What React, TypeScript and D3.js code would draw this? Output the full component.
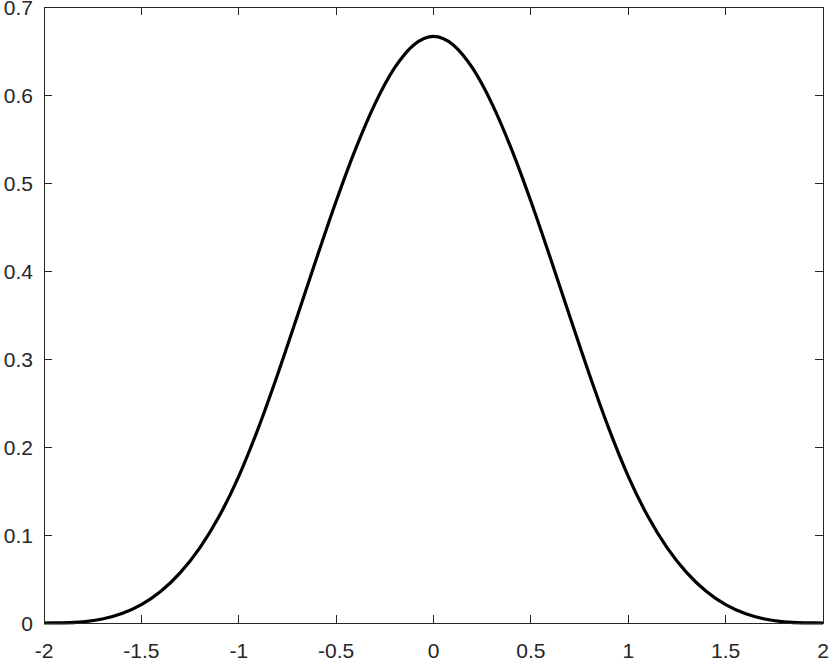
import React from "react";
import * as d3 from "d3";

const xValues = [-2, -1.9, -1.8, -1.7, -1.6, -1.5, -1.4, -1.3, -1.2, -1.1, -1, -0.9, -0.8, -0.7, -0.6, -0.5, -0.4, -0.3, -0.2, -0.1, 0, 0.1, 0.2, 0.3, 0.4, 0.5, 0.6, 0.7, 0.8, 0.9, 1, 1.1, 1.2, 1.3, 1.4, 1.5, 1.6, 1.7, 1.8, 1.9, 2];
const yValues = [0, 0.0002, 0.0013, 0.0045, 0.0107, 0.0208, 0.036, 0.0572, 0.0853, 0.1215, 0.1667, 0.2212, 0.2827, 0.3482, 0.4147, 0.4792, 0.5387, 0.5902, 0.6307, 0.6572, 0.6667, 0.6572, 0.6307, 0.5902, 0.5387, 0.4792, 0.4147, 0.3482, 0.2827, 0.2212, 0.1667, 0.1215, 0.0853, 0.0572, 0.036, 0.0208, 0.0107, 0.0045, 0.0013, 0.0002, 0];
const xTicks = [-2, -1.5, -1, -0.5, 0, 0.5, 1, 1.5, 2];
const yTicks = [0, 0.1, 0.2, 0.3, 0.4, 0.5, 0.6, 0.7];

const W = 830;
const H = 661;
const L = 44, R = 823, T = 7, B = 623;
const axisColor = "#262626";
const font = "'Liberation Sans', Arial, Helvetica, sans-serif";
const fs = 21;

export default function App() {
  const x = d3.scaleLinear().domain([-2, 2]).range([L, R]);
  const y = d3.scaleLinear().domain([0, 0.7]).range([B, T]);
  const pts: [number, number][] = xValues.map((v, i) => [v, yValues[i]]);
  const line = d3
    .line<[number, number]>()
    .x((d) => x(d[0]))
    .y((d) => y(d[1]))
    .curve(d3.curveMonotoneX);
  const tl = 8;
  return (
    <svg width={W} height={H} style={{ position: "absolute", left: 0, top: 0, background: "#fff" }}>
      <rect x={0} y={0} width={W} height={H} fill="#fff" />
      <path d={line(pts) || ""} fill="none" stroke="#000" strokeWidth={3.2} strokeLinejoin="round" />
      <rect x={L} y={T} width={R - L} height={B - T} fill="none" stroke={axisColor} strokeWidth={1} shapeRendering="crispEdges" />
      {xTicks.map((t) => (
        <g key={"x" + t}>
          <line x1={x(t)} x2={x(t)} y1={B} y2={B - tl} stroke={axisColor} shapeRendering="crispEdges" />
          <line x1={x(t)} x2={x(t)} y1={T} y2={T + tl} stroke={axisColor} shapeRendering="crispEdges" />
          <text x={x(t)} y={658} textAnchor="middle" fontFamily={font} fontSize={fs} fill={axisColor}>
            {String(t)}
          </text>
        </g>
      ))}
      {yTicks.map((t) => (
        <g key={"y" + t}>
          <line x1={L} x2={L + tl} y1={y(t)} y2={y(t)} stroke={axisColor} shapeRendering="crispEdges" />
          <line x1={R} x2={R - tl} y1={y(t)} y2={y(t)} stroke={axisColor} shapeRendering="crispEdges" />
          <text x={L - 11} y={y(t) + 7.5} textAnchor="end" fontFamily={font} fontSize={fs} fill={axisColor}>
            {String(t)}
          </text>
        </g>
      ))}
    </svg>
  );
}
